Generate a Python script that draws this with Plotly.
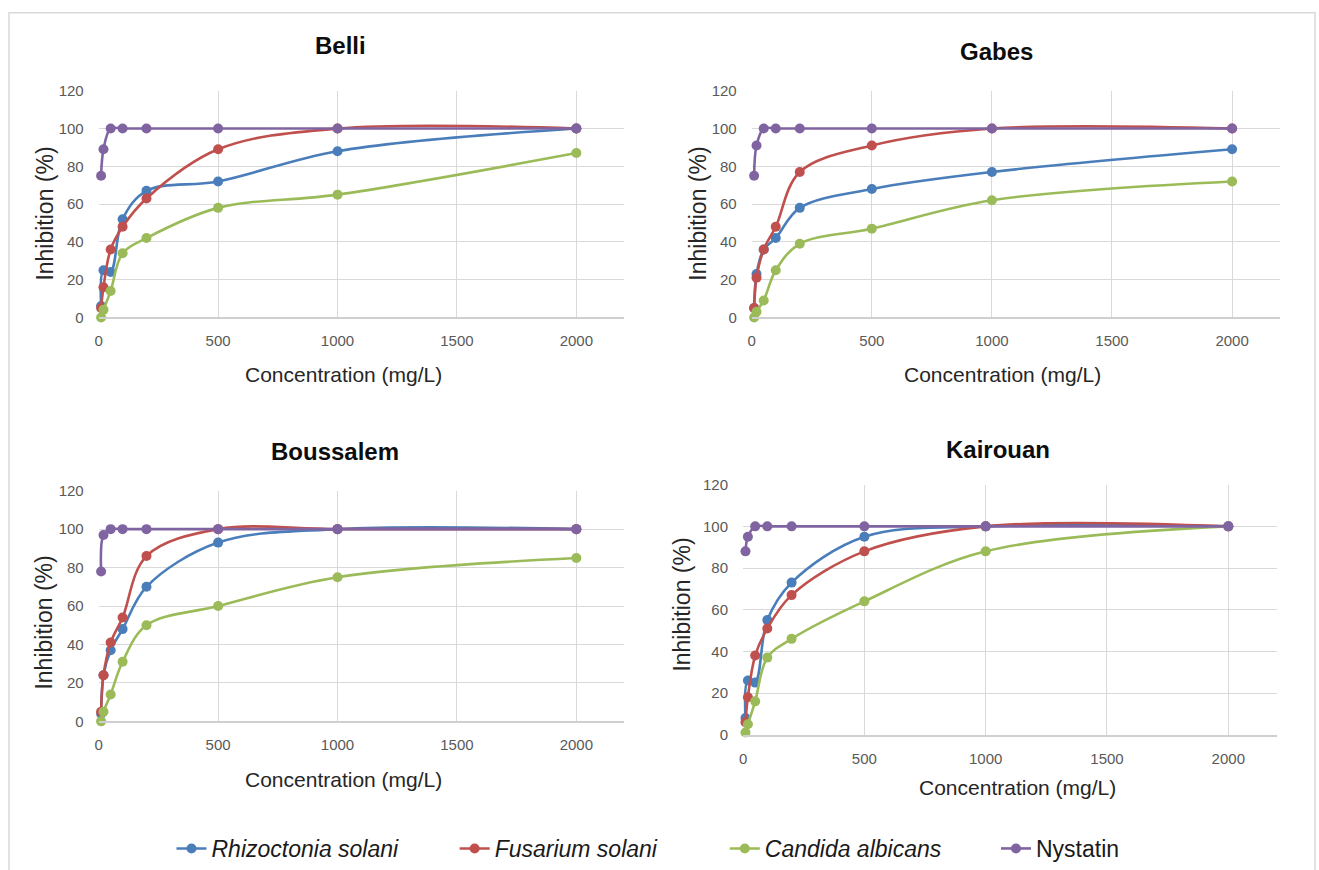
import plotly.graph_objects as go

W, H = 1319, 870

# ---------------- data ----------------
concentration = [10, 20, 50, 100, 200, 500, 1000, 2000]
series_names = ["Rhizoctonia solani", "Fusarium solani", "Candida albicans", "Nystatin"]
series_colors = ["#4A7EBB", "#C0504D", "#9BBB59", "#8064A2"]
panel_titles = ["Belli", "Gabes", "Boussalem", "Kairouan"]

belli_rhizoctonia = [6, 25, 24, 52, 67, 72, 88, 100]
belli_fusarium = [5, 16, 36, 48, 63, 89, 100, 100]
belli_candida = [0, 4, 14, 34, 42, 58, 65, 87]
belli_nystatin = [75, 89, 100, 100, 100, 100, 100, 100]

gabes_rhizoctonia = [5, 23, 36, 42, 58, 68, 77, 89]
gabes_fusarium = [5, 21, 36, 48, 77, 91, 100, 100]
gabes_candida = [0, 3, 9, 25, 39, 47, 62, 72]
gabes_nystatin = [75, 91, 100, 100, 100, 100, 100, 100]

boussalem_rhizoctonia = [4, 24, 37, 48, 70, 93, 100, 100]
boussalem_fusarium = [5, 24, 41, 54, 86, 100, 100, 100]
boussalem_candida = [0, 5, 14, 31, 50, 60, 75, 85]
boussalem_nystatin = [78, 97, 100, 100, 100, 100, 100, 100]

kairouan_rhizoctonia = [8, 26, 25, 55, 73, 95, 100, 100]
kairouan_fusarium = [6, 18, 38, 51, 67, 88, 100, 100]
kairouan_candida = [1, 5, 16, 37, 46, 64, 88, 100]
kairouan_nystatin = [88, 95, 100, 100, 100, 100, 100, 100]

panels = [
    [belli_rhizoctonia, belli_fusarium, belli_candida, belli_nystatin],
    [gabes_rhizoctonia, gabes_fusarium, gabes_candida, gabes_nystatin],
    [boussalem_rhizoctonia, boussalem_fusarium, boussalem_candida, boussalem_nystatin],
    [kairouan_rhizoctonia, kairouan_fusarium, kairouan_candida, kairouan_nystatin],
]

# ---------------- layout geometry (target pixels) ----------------
XS = -2.0  # small horizontal correction


def fx(px):
    return (px + XS) / W


def fy(py):
    # compensate for the vertical fit applied when the page is photographed
    design = (py - 8.23) / 0.9806
    return 1 - design / H


# (x_left, x_right, y_top, y_bottom)
boxes = [
    (97, 624, 90, 316.7),
    (752, 1282, 90, 316.7),
    (97, 624, 490, 720.7),
    (743.3, 1278.7, 484, 734),
]
title_pos = [(340, 45), (998, 51), (334, 451), (999, 449)]
xtitle_pos = [(343, 374), (1004, 374), (343, 779), (1019, 787)]
ytitle_pos = [(43, 213), (698, 213), (42, 622), (682, 604)]

FONT = "Arial, Liberation Sans, sans-serif"
TICK_COLOR = "#595959"
GRID = "#D9D9D9"

fig = go.Figure()

legend_keys = ["legend", "legend2", "legend3", "legend4"]

for p, series in enumerate(panels):
    xa = "x" if p == 0 else f"x{p+1}"
    ya = "y" if p == 0 else f"y{p+1}"
    for s, vals in enumerate(series):
        name = series_names[s]
        label = f"<i>{name}</i>" if s < 3 else name
        fig.add_trace(go.Scatter(
            x=concentration, y=vals, mode="lines+markers",
            name=label,
            line=dict(color=series_colors[s], width=2.6, shape="spline", smoothing=1),
            marker=dict(color=series_colors[s], size=10),
            xaxis=xa, yaxis=ya,
            showlegend=(p == 0),
            legend=legend_keys[s],
            cliponaxis=False,
        ))

layout = dict(
    width=W, height=H,
    margin=dict(l=0, r=0, t=0, b=0),
    paper_bgcolor="white", plot_bgcolor="white",
    font=dict(family=FONT, color="#262626"),
    showlegend=True,
)

for p, (x0, x1, y0, y1) in enumerate(boxes):
    xk = "xaxis" if p == 0 else f"xaxis{p+1}"
    yk = "yaxis" if p == 0 else f"yaxis{p+1}"
    xa = "x" if p == 0 else f"x{p+1}"
    ya = "y" if p == 0 else f"y{p+1}"
    layout[xk] = dict(
        domain=[fx(x0), fx(x1)], anchor=ya, range=[0, 2200],
        tick0=0, dtick=500, showgrid=True, gridcolor=GRID, gridwidth=1,
        zeroline=False, showline=True, linecolor="#CFCFCF", linewidth=2,
        ticks="", ticklabelstandoff=9,
        tickfont=dict(family=FONT, size=15, color=TICK_COLOR),
        fixedrange=True,
    )
    layout[yk] = dict(
        domain=[fy(y1), fy(y0)], anchor=xa, range=[0, 120],
        tick0=0, dtick=20, showgrid=True, gridcolor=GRID, gridwidth=1,
        zeroline=False, showline=False,
        ticks="", ticklabelstandoff=14,
        tickfont=dict(family=FONT, size=15, color=TICK_COLOR),
        fixedrange=True,
    )

annotations = []
for p in range(4):
    tx, ty = title_pos[p]
    annotations.append(dict(
        text=f"<b>{panel_titles[p]}</b>", x=fx(tx), y=fy(ty), xref="paper", yref="paper",
        xanchor="center", yanchor="middle", showarrow=False,
        font=dict(family=FONT, size=24, color="#0D0D0D"),
    ))
    ax_, ay_ = xtitle_pos[p]
    annotations.append(dict(
        text="Concentration (mg/L)", x=fx(ax_), y=fy(ay_), xref="paper", yref="paper",
        xanchor="center", yanchor="middle", showarrow=False,
        font=dict(family=FONT, size=21, color="#262626"),
    ))
    bx, by = ytitle_pos[p]
    annotations.append(dict(
        text="Inhibition (%)", x=fx(bx), y=fy(by), xref="paper", yref="paper",
        xanchor="center", yanchor="middle", showarrow=False, textangle=-90,
        font=dict(family=FONT, size=23, color="#262626"),
    ))
layout["annotations"] = annotations

# legends (one per series, positioned individually)
legend_text_start = [210, 494, 765, 1037]
for k, key in enumerate(legend_keys):
    layout[key] = dict(
        x=fx(legend_text_start[k] - 40), y=fy(848), xanchor="left", yanchor="middle",
        xref="paper", yref="paper", orientation="h",
        bgcolor="rgba(0,0,0,0)", borderwidth=0,
        font=dict(family=FONT, size=23, color="#1A1A1A"),
    )

# outer frame
layout["shapes"] = [dict(
    type="rect", xref="paper", yref="paper",
    x0=fx(7), x1=fx(1317), y0=-0.02, y1=fy(12),
    line=dict(color="#D9D9D9", width=1.5), fillcolor="rgba(0,0,0,0)", layer="below",
)]

fig.update_layout(**layout)
fig.write_html("out.html")
